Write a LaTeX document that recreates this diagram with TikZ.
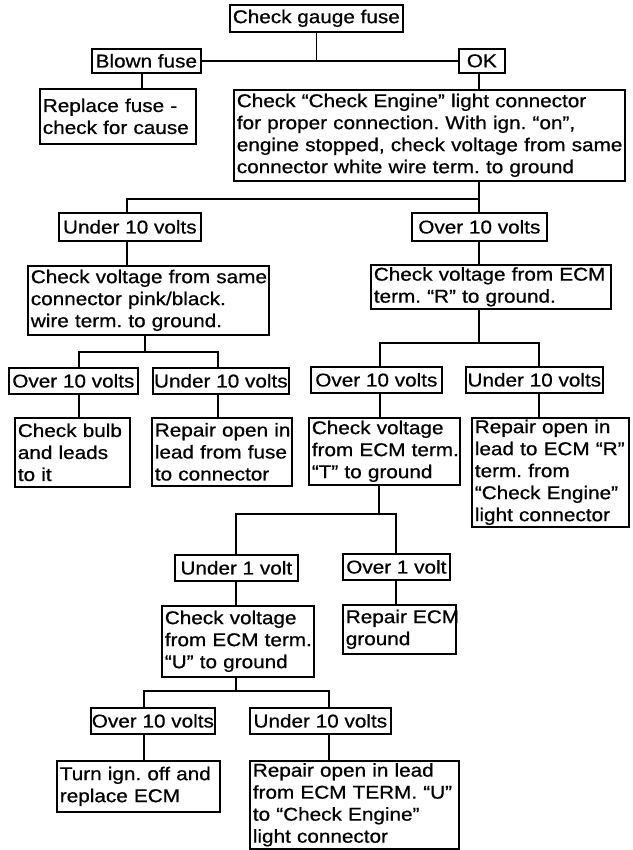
\documentclass[tikz,border=0pt]{standalone}
\usepackage{fontspec}
\setmainfont{Liberation Sans}[FakeStretch=1.12,FakeBold=0.7]
\begin{document}
\frenchspacing
\begin{tikzpicture}[x=1pt,y=-1pt,
  every node/.style={font=\fontsize{18.5}{22}\selectfont\frenchspacing},
  box/.style={draw, line width=1.7pt, anchor=north west, inner ysep=0pt},
  tag/.style={box, align=center, inner xsep=1pt},
  note/.style={box, align=left, inner xsep=3pt},
  link/.style={line width=1.7pt, line join=miter}]
\useasboundingbox (0,0) rectangle (632,850);

% ---- top level
\node[tag, minimum width=173pt, minimum height=27pt] (gauge) at (229,4) {Check gauge fuse};
\node[tag, minimum width=109pt, minimum height=24pt] (blown) at (91,48) {Blown fuse};
\node[tag, minimum width=46pt, minimum height=24pt] (ok) at (458,48) {OK};
\node[note, text width=150pt, minimum height=55pt] (replace) at (39,88)
  {\mbox{Replace fuse -}\\\mbox{check for cause}};
\node[note, text width=385pt, minimum height=91pt] (big) at (233,89)
  {\mbox{Check “Check Engine” light connector}\\
   \mbox{for proper connection. With ign. “on”,}\\
   \mbox{engine stopped, check voltage from same}\\
   \mbox{connector white wire term. to ground}};

% ---- second level
\node[tag, minimum width=142pt, minimum height=28pt] (under1) at (58,212) {Under 10 volts};
\node[tag, minimum width=135pt, minimum height=28pt] (over1) at (411,212) {Over 10 volts};
\node[note, text width=235pt, minimum height=69pt] (pink) at (27,265)
  {\mbox{Check voltage from same}\\\mbox{connector pink/black.}\\\mbox{wire term. to ground.}};
\node[note, text width=234pt, minimum height=44pt] (rbox) at (370,264)
  {\mbox{Check voltage from ECM}\\\mbox{term. “R” to ground.}};

% ---- third level
\node[tag, minimum width=129pt, minimum height=26pt] (o2a) at (8,367) {Over 10 volts};
\node[tag, minimum width=136pt, minimum height=26pt] (u2a) at (152,367) {Under 10 volts};
\node[tag, minimum width=131pt, minimum height=26pt] (o2b) at (310,366) {Over 10 volts};
\node[tag, minimum width=137pt, minimum height=26pt] (u2b) at (465,366) {Under 10 volts};

\node[note, text width=109pt, minimum height=69pt] (bulb) at (14,417)
  {\mbox{Check bulb}\\\mbox{and leads}\\\mbox{to it}};
\node[note, text width=134pt, minimum height=68pt] (fusefix) at (151,417)
  {\mbox{Repair open in}\\\mbox{lead from fuse}\\\mbox{to connector}};
\node[note, text width=145pt, minimum height=67pt] (tbox) at (308,417)
  {\mbox{Check voltage}\\\mbox{from ECM term.}\\\mbox{“T” to ground}};
\node[note, text width=151pt, minimum height=109pt] (rrep) at (471,417)
  {\mbox{Repair open in}\\\mbox{lead to ECM “R”}\\\mbox{term. from}\\
   \mbox{“Check Engine”}\\\mbox{light connector}};

% ---- fourth level
\node[tag, minimum width=123pt, minimum height=26pt] (under1v) at (174,554) {Under 1 volt};
\node[tag, minimum width=107pt, minimum height=26pt] (over1v) at (342,553) {Over 1 volt};
\node[note, text width=146pt, minimum height=71pt] (ubox) at (161,605)
  {\mbox{Check voltage}\\\mbox{from ECM term.}\\\mbox{“U” to ground}};
\node[note, text width=107pt, minimum height=49pt] (repecm) at (342,604)
  {\mbox{Repair ECM}\\\mbox{ground}};

% ---- fifth level
\node[tag, minimum width=123pt, minimum height=26pt] (o3a) at (90,707) {Over 10 volts};
\node[tag, minimum width=141pt, minimum height=26pt] (u3b) at (249,707) {Under 10 volts};
\node[note, text width=157pt, minimum height=51pt] (turn) at (56,760)
  {\mbox{Turn ign. off and}\\\mbox{replace ECM}};
\node[note, text width=203pt, minimum height=88pt] (repu) at (249,760)
  {\mbox{Repair open in lead}\\\mbox{from ECM TERM. “U”}\\
   \mbox{to “Check Engine”}\\\mbox{light connector}};

% ---- junction points of the branch lines
\coordinate (k1) at (142,60);
\coordinate (b2a) at (127,199);  \coordinate (b2b) at (479,199);
\coordinate (b3m) at (145,352);  \coordinate (b3a) at (79,352);  \coordinate (b3b) at (218,352);
\coordinate (b4m) at (479,343);  \coordinate (b4a) at (380,343); \coordinate (b4b) at (539,343);
\coordinate (b5m) at (379,514);  \coordinate (b5a) at (236,514); \coordinate (b5b) at (396,514);
\coordinate (b6m) at (236,691);  \coordinate (b6a) at (144,691); \coordinate (b6b) at (329,691);

% ---- connectors
\draw[link] (gauge.south) -- (gauge.south |- blown.east);
\draw[link] (blown.east) -- (ok.west);
\draw[link] (blown.south -| k1) -- (replace.north -| k1);
\draw[link] (ok.south -| b2b) -- (big.north -| b2b);

\draw[link] (big.south -| b2b) -- (b2b) -- (b2a) -- (under1.north -| b2a);
\draw[link] (b2b) -- (over1.north -| b2b);
\draw[link] (under1.south -| b2a) -- (pink.north -| b2a);
\draw[link] (over1.south -| b2b) -- (rbox.north -| b2b);

\draw[link] (pink.south -| b3m) -- (b3m);
\draw[link] (o2a.north -| b3a) -- (b3a) -- (b3b) -- (u2a.north -| b3b);
\draw[link] (o2a.south -| b3a) -- (bulb.north -| b3a);
\draw[link] (u2a.south -| b3b) -- (fusefix.north -| b3b);

\draw[link] (rbox.south -| b4m) -- (b4m);
\draw[link] (o2b.north -| b4a) -- (b4a) -- (b4b) -- (u2b.north -| b4b);
\draw[link] (o2b.south -| b4a) -- (tbox.north -| b4a);
\draw[link] (u2b.south -| b4b) -- (rrep.north -| b4b);

\draw[link] (tbox.south -| b5m) -- (b5m);
\draw[link] (under1v.north -| b5a) -- (b5a) -- (b5b) -- (over1v.north -| b5b);
\draw[link] (under1v.south -| b5a) -- (ubox.north -| b5a);
\draw[link] (over1v.south -| b5b) -- (repecm.north -| b5b);

\draw[link] (ubox.south -| b6m) -- (b6m);
\draw[link] (o3a.north -| b6a) -- (b6a) -- (b6b) -- (u3b.north -| b6b);
\draw[link] (o3a.south -| b6a) -- (turn.north -| b6a);
\draw[link] (u3b.south -| b6b) -- (repu.north -| b6b);
\end{tikzpicture}
\end{document}
